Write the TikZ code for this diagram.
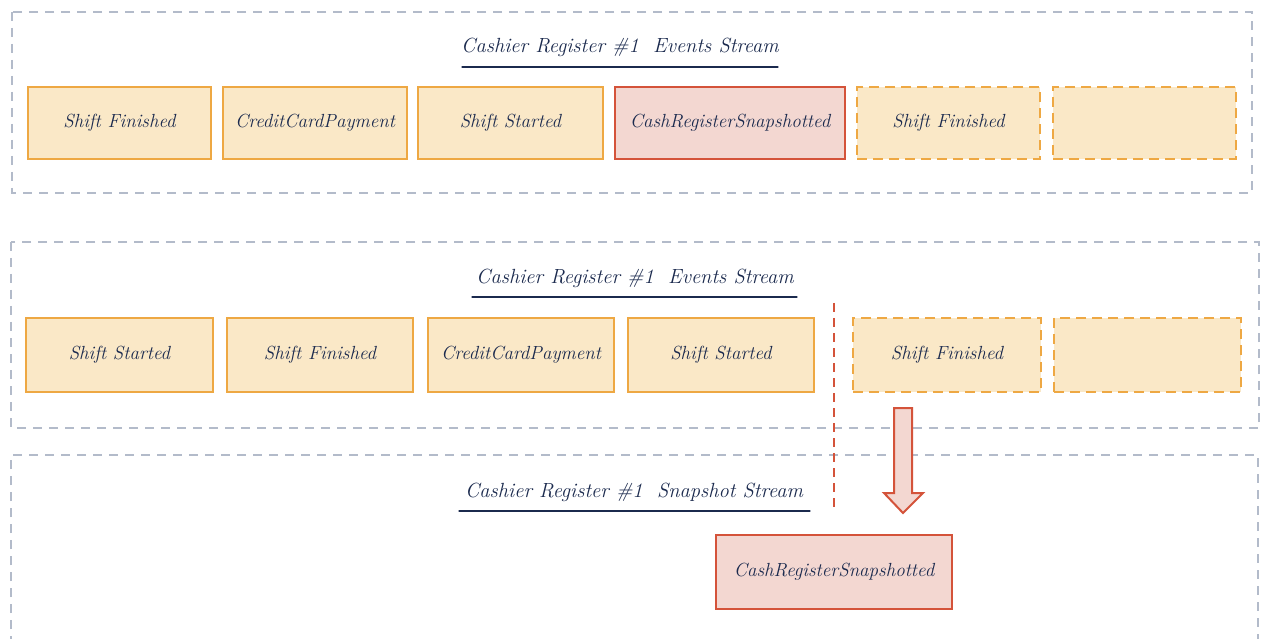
\documentclass[tikz,border=0pt]{standalone}
\usepackage{fontspec}
\usepackage{xcolor}
\definecolor{ev}{HTML}{EEA843}
\definecolor{evfill}{HTML}{FAE8C7}
\definecolor{sn}{HTML}{D4533A}
\definecolor{snfill}{HTML}{F3D7D1}
\definecolor{frame}{HTML}{B3BBCA}
\definecolor{ink}{HTML}{1B2A4E}
\begin{document}
\begin{tikzpicture}[x=1pt,y=-1pt,
 container/.style={draw=frame, line width=1.6pt, dash pattern=on 9pt off 7pt},
 event/.style={draw=ev, fill=evfill, line width=2pt, rectangle, inner sep=0pt,
   font=\fontsize{19}{22}\selectfont\itshape, text=ink},
 future/.style={event, line width=1.8pt, dash pattern=on 10pt off 6pt},
 snap/.style={event, draw=sn, fill=snfill},
 title/.style={font=\fontsize{20.5}{24}\selectfont\itshape, text=ink, inner sep=0pt},
 uline/.style={draw=ink, line width=1.3pt, line cap=round}]
\fill[white] (0,0) rectangle (1262,639);
\useasboundingbox (0,0) rectangle (1262,639);
% containers
\draw[container] (12,12) rectangle (1252,193);
\draw[container] (11,242) rectangle (1259,428);
\draw[container] (11,645) -- (11,455) -- (1258,455) -- (1258,645);
% titles
\node[title] (t1) at (620,47) {Cashier Register \#1\ \ Events Stream};
\draw[uline] (462,67) -- (778,67);
\node[title] (t2) at (635,278) {Cashier Register \#1\ \ Events Stream};
\draw[uline] (472,297) -- (797,297);
\node[title] (t3) at (634,492) {Cashier Register \#1\ \ Snapshot Stream};
\draw[uline] (459,511) -- (810,511);
% top row
\node[event, minimum width=183pt, minimum height=72pt] (a1) at (119.5,123) {Shift Finished};
\node[event, minimum width=184pt, minimum height=72pt] (a2) at (315,123) {CreditCardPayment};
\node[event, minimum width=185pt, minimum height=72pt] (a3) at (510.5,123) {Shift Started};
\node[snap, minimum width=230pt, minimum height=72pt] (a4) at (730,123) {CashRegisterSnapshotted};
\node[future, minimum width=183pt, minimum height=72pt] (a5) at (948.5,123) {Shift Finished};
\node[future, minimum width=183pt, minimum height=72pt] (a6) at (1144.5,123) {};
% middle row
\node[event, minimum width=187pt, minimum height=74pt] (b1) at (119.5,355) {Shift Started};
\node[event, minimum width=186pt, minimum height=74pt] (b2) at (320,355) {Shift Finished};
\node[event, minimum width=186pt, minimum height=74pt] (b3) at (521,355) {CreditCardPayment};
\node[event, minimum width=186pt, minimum height=74pt] (b4) at (721,355) {Shift Started};
\node[future, minimum width=188pt, minimum height=74pt] (b5) at (947,355) {Shift Finished};
\node[future, minimum width=187pt, minimum height=74pt] (b6) at (1147.5,355) {};
% divider
\draw[draw=sn, line width=2pt, dash pattern=on 9pt off 6pt] (834,303) -- (834,510);
% block arrow
\draw[draw=sn, fill=snfill, line width=2pt, line join=miter]
  (894,408) -- (912,408) -- (912,493) -- (923,493) -- (903,513) -- (884,493) -- (894,493) -- cycle;
% snapshot
\node[snap, minimum width=236pt, minimum height=74pt] (s1) at (834,572) {CashRegisterSnapshotted};
\end{tikzpicture}
\end{document}
